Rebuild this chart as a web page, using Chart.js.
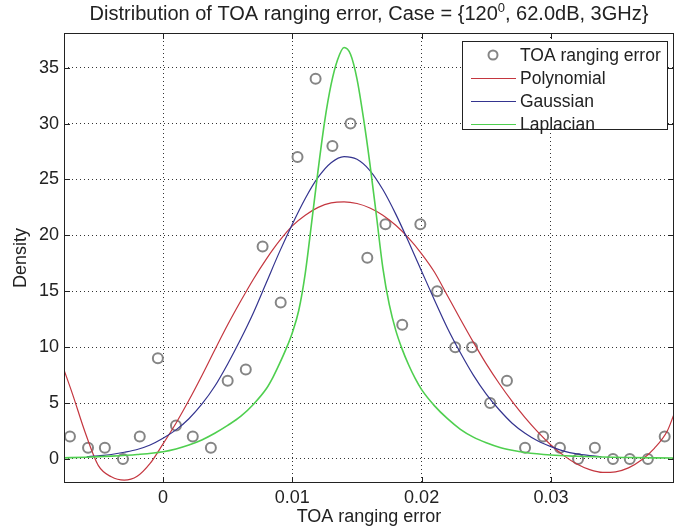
<!DOCTYPE html>
<html>
<head>
<meta charset="utf-8">
<script src="https://cdn.jsdelivr.net/npm/chart.js@4.4.1/dist/chart.umd.min.js"></script>
<style>
  html, body { margin: 0; padding: 0; background: #fff; }
  #wrap { width: 694px; height: 529px; }
</style>
</head>
<body>
<div id="wrap"><canvas id="chart"></canvas></div>
<script>
// measured samples (TOA ranging error histogram)
const sampleX = [-0.0072, -0.0058, -0.0045, -0.0031, -0.0018, -0.0004, 0.0010, 0.0023, 0.0037, 0.0050,
  0.0064, 0.0077, 0.0091, 0.0104, 0.0118, 0.0131, 0.0145, 0.0158, 0.0172, 0.0185,
  0.0199, 0.0212, 0.0226, 0.0239, 0.0253, 0.0266, 0.0280, 0.0294, 0.0307, 0.0321,
  0.0334, 0.0348, 0.0361, 0.0375, 0.0388];
const sampleY = [2, 1, 1, 0, 2, 9, 3, 2, 1, 7,
  8, 19, 14, 27, 34, 28, 30, 18, 21, 12,
  21, 15, 10, 10, 5, 7, 1, 2, 1, 0,
  1, 0, 0, 0, 2];

// fitted curves
const polyX = [-0.0077, -0.007, -0.006, -0.005, -0.004, -0.003, -0.002, -0.001, 0, 0.001,
  0.002, 0.003, 0.004, 0.005, 0.006, 0.007, 0.008, 0.009, 0.010, 0.011,
  0.012, 0.013, 0.014, 0.015, 0.016, 0.017, 0.018, 0.019, 0.020, 0.021,
  0.022, 0.023, 0.024, 0.025, 0.026, 0.027, 0.028, 0.029, 0.030, 0.031,
  0.032, 0.033, 0.034, 0.035, 0.036, 0.037, 0.038, 0.039, 0.03952];
const polyY = [8.1, 5.8, 2.3, -0.6, -1.6, -1.9, -1.55, -0.4, 1.35, 3.2,
  5.25, 7.45, 9.75, 12.0, 14.1, 16.1, 17.9, 19.5, 20.85, 21.8,
  22.5, 22.9, 23.0, 22.85, 22.45, 21.8, 20.9, 19.75, 18.35, 16.7,
  14.6, 12.5, 10.45, 8.5, 6.75, 5.15, 3.7, 2.4, 1.25, 0.3,
  -0.45, -0.95, -1.2, -1.15, -0.8, -0.1, 0.95, 2.5, 4.0];

const gaussX = [-0.0059, -0.005, -0.004, -0.003, -0.002, -0.001, 0, 0.001, 0.002, 0.003,
  0.004, 0.005, 0.006, 0.007, 0.008, 0.009, 0.010, 0.011, 0.012, 0.013,
  0.014, 0.015, 0.016, 0.017, 0.018, 0.019, 0.020, 0.021, 0.022, 0.023,
  0.024, 0.025, 0.026, 0.027, 0.028, 0.029, 0.030, 0.031, 0.032, 0.033, 0.0339];
const gaussY = [0.2, 0.28, 0.4, 0.6, 0.85, 1.25, 1.85, 2.6, 3.6, 4.9,
  6.5, 8.5, 10.7, 13.1, 15.8, 18.5, 21.0, 23.3, 25.2, 26.5,
  27.05, 26.8, 25.8, 24.1, 21.9, 19.4, 16.8, 14.2, 11.7, 9.5,
  7.5, 5.8, 4.4, 3.2, 2.3, 1.6, 1.1, 0.7, 0.45, 0.3, 0.2];

const lapX = [-0.0077, -0.006, -0.004, -0.002, 0, 0.001, 0.002, 0.003, 0.004, 0.005,
  0.006, 0.007, 0.008, 0.0085, 0.009, 0.0095, 0.010, 0.0105, 0.011, 0.0115,
  0.012, 0.0125, 0.013, 0.0135, 0.014, 0.0145, 0.015, 0.0155, 0.016, 0.0165,
  0.017, 0.0175, 0.018, 0.0185, 0.019, 0.0195, 0.020, 0.021, 0.022, 0.023,
  0.024, 0.025, 0.026, 0.027, 0.028, 0.030, 0.032, 0.034, 0.036, 0.038, 0.03952];
const lapY = [0.1, 0.15, 0.25, 0.4, 0.65, 0.9, 1.25, 1.7, 2.3, 3.0,
  3.8, 4.9, 6.3, 7.3, 8.5, 9.8, 11.3, 13.3, 16.6, 21.2,
  25.9, 30.2, 33.5, 35.7, 36.8, 36.2, 34.0, 30.5, 26.4, 21.8,
  17.1, 13.8, 11.5, 9.8, 8.4, 7.2, 6.2, 4.75, 3.6, 2.65,
  1.95, 1.45, 1.05, 0.78, 0.58, 0.35, 0.24, 0.17, 0.13, 0.1, 0.08];

const xTicks = [0, 0.01, 0.02, 0.03];
const xTickLabels = ['0', '0.01', '0.02', '0.03'];
const yTicks = [0, 5, 10, 15, 20, 25, 30, 35];
const yTickLabels = ['0', '5', '10', '15', '20', '25', '30', '35'];

const legendLabels = ['TOA ranging error', 'Polynomial', 'Gaussian', 'Laplacian'];
const titleParts = ['Distribution of TOA ranging error, Case = {120', '0', ', 62.0dB, 3GHz}'];

const FONT = '"Liberation Sans", Arial, sans-serif';
const TXT = '#222';
const RED = '#c4363f';
const BLUE = '#34348f';
const GREEN = '#4fcf4f';
const GREY = '#858585';

function toPts(xs, ys) {
  return xs.map((x, i) => ({ x: x, y: ys[i] }));
}

// title, box, inward ticks, legend
const matlabLook = {
  id: 'matlabLook',
  afterDraw(chart) {
    const ctx = chart.ctx;
    const a = chart.chartArea;
    const xs = chart.scales.x, ys = chart.scales.y;
    ctx.save();

    // box
    ctx.strokeStyle = '#222';
    ctx.lineWidth = 1;
    ctx.strokeRect(a.left + 0.5, a.top + 0.5, a.right - a.left - 1, a.bottom - a.top - 1);

    // inward ticks on all sides
    const tl = 6;
    ctx.beginPath();
    xTicks.forEach(v => {
      const px = Math.round(xs.getPixelForValue(v)) + 0.5;
      ctx.moveTo(px, a.bottom); ctx.lineTo(px, a.bottom - tl);
      ctx.moveTo(px, a.top); ctx.lineTo(px, a.top + tl);
    });
    yTicks.forEach(v => {
      const py = Math.round(ys.getPixelForValue(v)) + 0.5;
      ctx.moveTo(a.left, py); ctx.lineTo(a.left + tl, py);
      ctx.moveTo(a.right, py); ctx.lineTo(a.right - tl, py);
    });
    ctx.stroke();

    // title with superscript
    ctx.fillStyle = TXT;
    ctx.textBaseline = 'alphabetic';
    ctx.textAlign = 'left';
    const big = '20px ' + FONT, small = '13px ' + FONT;
    ctx.font = big;
    const w0 = ctx.measureText(titleParts[0]).width;
    const w2 = ctx.measureText(titleParts[2]).width;
    ctx.font = small;
    const w1 = ctx.measureText(titleParts[1]).width;
    let tx = (a.left + a.right) / 2 - (w0 + w1 + w2) / 2;
    const ty = 20;
    ctx.font = big; ctx.fillText(titleParts[0], tx, ty); tx += w0;
    ctx.font = small; ctx.fillText(titleParts[1], tx, ty - 8); tx += w1;
    ctx.font = big; ctx.fillText(titleParts[2], tx, ty);

    // legend
    const lx = 462, ly = 41, lw = 205, lh = 88;
    ctx.fillStyle = '#fff';
    ctx.fillRect(lx, ly, lw, lh);
    ctx.strokeStyle = '#222';
    ctx.strokeRect(lx + 0.5, ly + 0.5, lw, lh);
    const rows = [55, 78, 101, 124];
    const colors = [GREY, RED, BLUE, GREEN];
    ctx.font = '17.5px ' + FONT;
    ctx.textBaseline = 'middle';
    legendLabels.forEach((lab, i) => {
      const ry = rows[i];
      if (i === 0) {
        ctx.strokeStyle = GREY; ctx.lineWidth = 2;
        ctx.beginPath(); ctx.arc(493, ry, 4.5, 0, Math.PI * 2); ctx.stroke();
      } else {
        ctx.strokeStyle = colors[i]; ctx.lineWidth = 1.2;
        ctx.beginPath(); ctx.moveTo(471, ry + 0.5); ctx.lineTo(516, ry + 0.5); ctx.stroke();
      }
      ctx.fillStyle = TXT;
      ctx.fillText(lab, 520, ry + 1);
    });
    ctx.restore();
  }
};

const ctx = document.getElementById('chart').getContext('2d');
new Chart(ctx, {
  type: 'scatter',
  data: {
    datasets: [
      {
        label: legendLabels[0],
        data: toPts(sampleX, sampleY),
        showLine: false,
        pointStyle: 'circle',
        pointRadius: 5,
        pointBorderWidth: 2,
        pointBorderColor: GREY,
        pointBackgroundColor: 'rgba(0,0,0,0)',
        order: 3
      },
      {
        label: legendLabels[1],
        data: toPts(polyX, polyY),
        showLine: true,
        borderColor: RED,
        borderWidth: 1.2,
        pointRadius: 0,
        cubicInterpolationMode: 'monotone',
        order: 2
      },
      {
        label: legendLabels[2],
        data: toPts(gaussX, gaussY),
        showLine: true,
        borderColor: BLUE,
        borderWidth: 1.2,
        pointRadius: 0,
        cubicInterpolationMode: 'monotone',
        order: 1
      },
      {
        label: legendLabels[3],
        data: toPts(lapX, lapY),
        showLine: true,
        borderColor: GREEN,
        borderWidth: 1.6,
        pointRadius: 0,
        cubicInterpolationMode: 'monotone',
        order: 0
      }
    ]
  },
  options: {
    responsive: true,
    maintainAspectRatio: false,
    animation: false,
    layout: { padding: { top: 33, right: 20, left: 0, bottom: 0 } },
    plugins: {
      legend: { display: false },
      title: { display: false },
      tooltip: { enabled: false }
    },
    scales: {
      x: {
        type: 'linear',
        min: -0.00766,
        max: 0.03952,
        afterBuildTicks: s => { s.ticks = xTicks.map(v => ({ value: v })); },
        afterFit: s => { s.height = 46; },
        grid: { color: '#333', drawTicks: false, lineWidth: 1 },
        border: { display: false, dash: [1, 3] },
        ticks: {
          color: TXT,
          font: { family: FONT, size: 18 },
          padding: 4,
          maxRotation: 0,
          callback: (v, i) => xTickLabels[i]
        },
        title: {
          display: true,
          text: 'TOA ranging error',
          color: TXT,
          font: { family: FONT, size: 18 },
          padding: { top: 0, bottom: 1 }
        }
      },
      y: {
        min: -2.15,
        max: 38.1,
        afterBuildTicks: s => { s.ticks = yTicks.map(v => ({ value: v })); },
        afterFit: s => { s.width = 64; },
        grid: { color: '#333', drawTicks: false, lineWidth: 1 },
        border: { display: false, dash: [1, 3] },
        ticks: {
          color: TXT,
          font: { family: FONT, size: 18 },
          padding: 5,
          callback: (v, i) => yTickLabels[i]
        },
        title: {
          display: true,
          text: 'Density',
          color: TXT,
          font: { family: FONT, size: 18 },
          padding: { top: 10, bottom: 0 }
        }
      }
    }
  },
  plugins: [matlabLook]
});
</script>
</body>
</html>
